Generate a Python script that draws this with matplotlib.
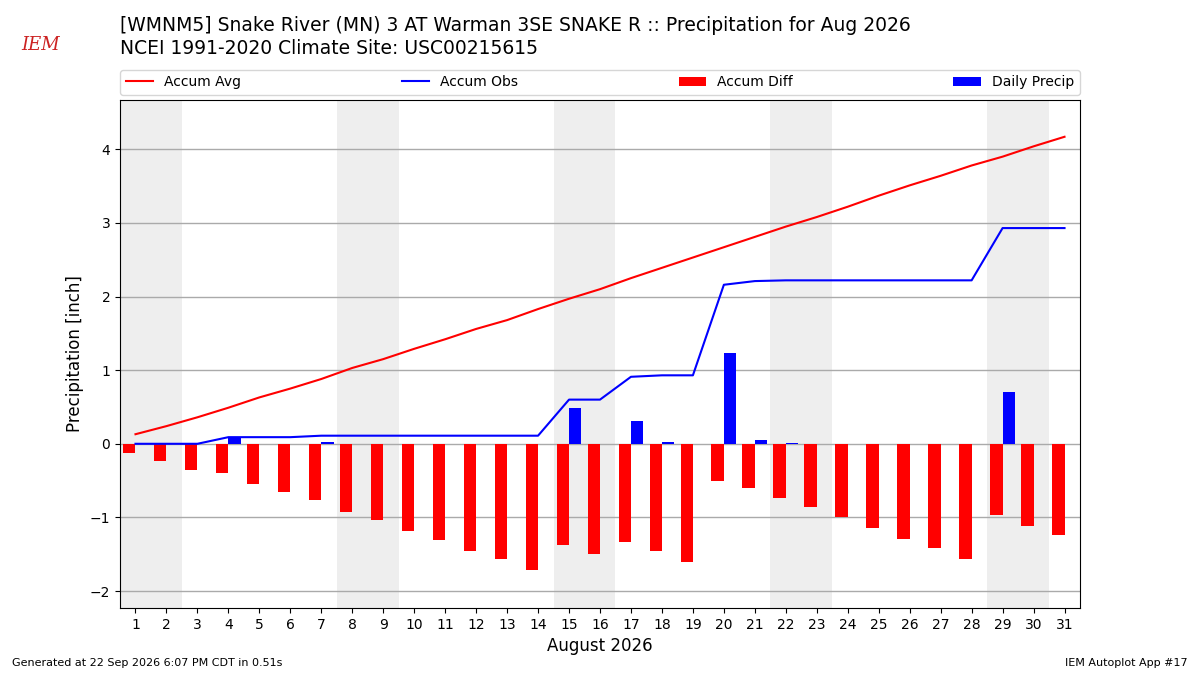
import matplotlib
matplotlib.use("Agg")
import matplotlib.pyplot as plt

days = list(range(1, 32))

accum_avg = [0.13, 0.24, 0.36, 0.49, 0.63, 0.75, 0.88, 1.03, 1.15, 1.29,
             1.42, 1.56, 1.68, 1.83, 1.97, 2.10, 2.25, 2.39, 2.53, 2.67,
             2.81, 2.95, 3.08, 3.22, 3.37, 3.51, 3.64, 3.78, 3.90, 4.04, 4.17]
accum_obs = [0.00, 0.00, 0.00, 0.09, 0.09, 0.09, 0.11, 0.11, 0.11, 0.11,
             0.11, 0.11, 0.11, 0.11, 0.60, 0.60, 0.91, 0.93, 0.93, 2.16,
             2.21, 2.22, 2.22, 2.22, 2.22, 2.22, 2.22, 2.22, 2.93, 2.93, 2.93]
accum_diff = [-0.13, -0.24, -0.36, -0.40, -0.54, -0.66, -0.77, -0.92, -1.04, -1.18,
              -1.31, -1.45, -1.57, -1.72, -1.37, -1.50, -1.34, -1.46, -1.60, -0.51,
              -0.60, -0.73, -0.86, -1.00, -1.15, -1.29, -1.42, -1.56, -0.97, -1.11, -1.24]
daily_precip = [0, 0, 0, 0.09, 0, 0, 0.02, 0, 0, 0,
                0, 0, 0, 0, 0.49, 0, 0.31, 0.02, 0, 1.23,
                0.05, 0.01, 0, 0, 0, 0, 0, 0, 0.71, 0, 0]
weekends = [1, 8, 15, 22, 29]

fig = plt.figure(figsize=(12, 6.75), dpi=100)
ax = fig.add_axes([0.1, 0.0993, 0.8, 0.7526])

for start in weekends:
    ax.axvspan(start - 0.5, start + 1.5, color="#eeeeee", zorder=0, lw=0)

ax.bar([d - 0.2 for d in days], accum_diff, width=0.4, color="red",
       label="Accum Diff", zorder=2)
ax.bar([d + 0.2 for d in days], daily_precip, width=0.4, color="blue",
       label="Daily Precip", zorder=2)
ax.plot(days, accum_avg, color="red", lw=1.5, label="Accum Avg", zorder=3)
ax.plot(days, accum_obs, color="blue", lw=1.5, label="Accum Obs", zorder=3)

ax.set_xlim(0.5, 31.5)
ax.set_ylim(-2.23, 4.67)
ax.set_xticks(days)
ax.set_yticks(range(-2, 5))
ax.tick_params(labelsize=10)
ax.grid(True, axis="y", color="#aaaaaa", lw=1, zorder=1)
ax.set_axisbelow(True)
ax.set_xlabel("August 2026", fontsize=12)
ax.set_ylabel("Precipitation [inch]", fontsize=12)

ax.legend(loc="lower left", bbox_to_anchor=(0, 1.01, 1, 0.05),
          ncol=4, mode="expand", borderaxespad=0, fontsize=10)

fig.text(0.1, 0.962, "[WMNM5] Snake River (MN) 3 AT Warman 3SE SNAKE R :: Precipitation for Aug 2026",
         fontsize=13.5, va="center")
fig.text(0.1, 0.928, "NCEI 1991-2020 Climate Site: USC00215615",
         fontsize=13.5, va="center")
fig.text(0.018, 0.933, "IEM", color="#cc2222", fontsize=13, family="serif",
         style="italic", va="center", ha="left")

fig.text(0.01, 0.014, "Generated at 22 Sep 2026 6:07 PM CDT in 0.51s", fontsize=8)
fig.text(0.99, 0.014, "IEM Autoplot App #17", fontsize=8, ha="right")

fig.savefig("out.png", dpi=100)
